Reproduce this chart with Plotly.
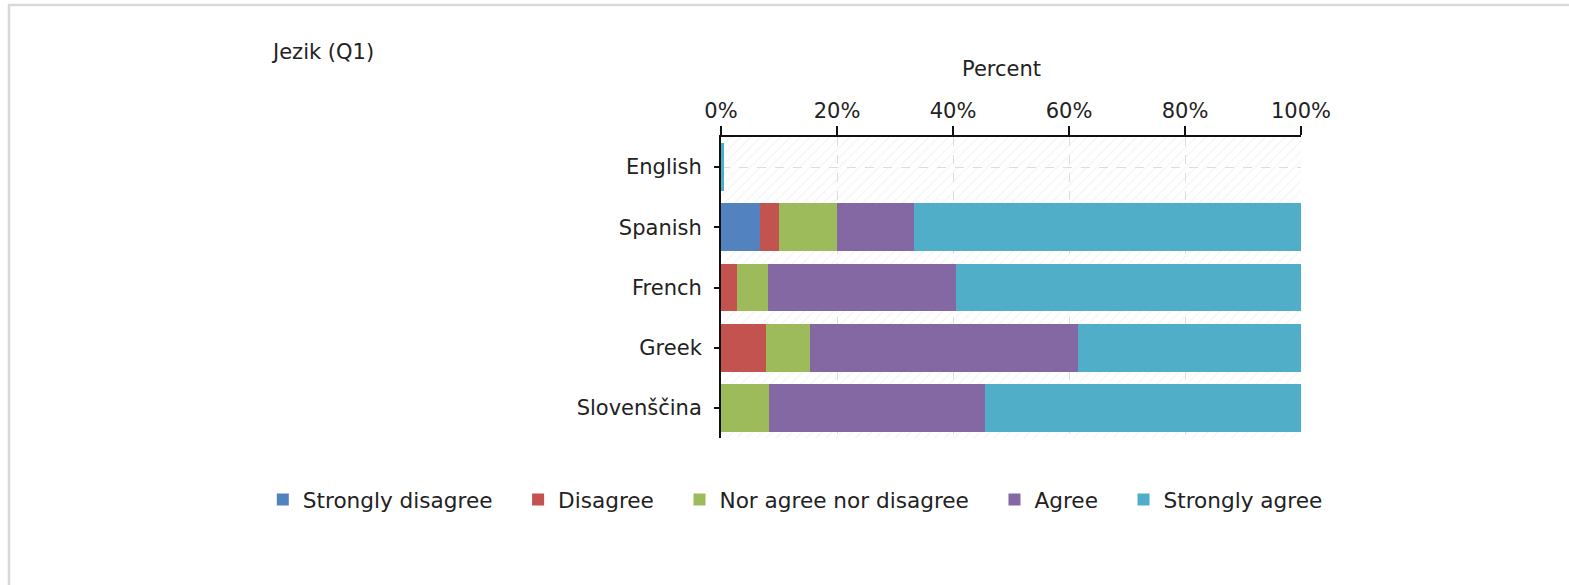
import plotly.graph_objects as go

# Survey responses per language, share of respondents in percent
languages = ["English", "Spanish", "French", "Greek", "Slovenščina"]
answers = ["Strongly disagree", "Disagree", "Nor agree nor disagree", "Agree", "Strongly agree"]
strongly_disagree = [0, 6.7, 0, 0, 0]
disagree = [0, 3.3, 2.7, 7.7, 0]
neutral = [0, 10.0, 5.4, 7.7, 8.2]
agree = [0, 13.3, 32.4, 46.2, 37.3]
strongly_agree = [0.6, 66.7, 59.5, 38.4, 54.5]

x_ticks = [0, 20, 40, 60, 80, 100]
x_tick_labels = ["0%", "20%", "40%", "60%", "80%", "100%"]

colors = ["#5283BE", "#C2534F", "#9DBB5B", "#8468A4", "#50AEC8"]
series = [strongly_disagree, disagree, neutral, agree, strongly_agree]

FONT = "DejaVu Sans"
FS = 21
TXT = "#222222"
PAD = "\u00a0\u00a0\u00a0"  # extra room between legend entries

fig = go.Figure()

# hatched plot background on a hidden unit axis pair
fig.add_trace(go.Scatter(
    x=[0, 1, 1, 0, 0], y=[0, 0, 1, 1, 0],
    xaxis="x", yaxis="y",
    mode="lines", line=dict(width=0),
    fill="toself", fillcolor="rgba(0,0,0,0)",
    fillpattern=dict(shape="/", size=7, solidity=0.15,
                     fgcolor="#e6e6e6", bgcolor="rgba(0,0,0,0)"),
    hoverinfo="skip", showlegend=False,
))

for name, vals, col in zip(answers, series, colors):
    fig.add_trace(go.Bar(
        y=languages, x=vals, name=name + PAD, orientation="h",
        xaxis="x2", yaxis="y2",
        marker=dict(color=col, line=dict(width=0)),
    ))

fig.update_layout(
    width=1569, height=585,
    margin=dict(l=721, r=268, t=137, b=147),
    paper_bgcolor="white", plot_bgcolor="white",
    barmode="stack", bargap=0.205,
    font=dict(family=FONT, size=FS, color=TXT),
    xaxis=dict(range=[0, 1], visible=False, fixedrange=True),
    yaxis=dict(range=[0, 1], visible=False, fixedrange=True),
    xaxis2=dict(
        overlaying="x", side="top", anchor="y2",
        range=[0, 100], tickvals=x_ticks, ticktext=x_tick_labels,
        ticks="outside", ticklen=9, tickwidth=1.5, tickcolor="#111",
        showline=True, linecolor="#111", linewidth=2,
        showgrid=True, gridcolor="#dcdcdc", griddash="dash", gridwidth=1,
        zeroline=False,
        tickfont=dict(family=FONT, size=FS, color=TXT),
    ),
    yaxis2=dict(
        overlaying="y", anchor="x2",
        categoryorder="array", categoryarray=languages,
        autorange="reversed",
        ticks="outside", ticklen=5, tickwidth=1.5, tickcolor="#111",
        ticklabelstandoff=8,
        showline=True, linecolor="#111", linewidth=2,
        showgrid=True, gridcolor="#dcdcdc", griddash="dash", gridwidth=1,
        tickfont=dict(family=FONT, size=FS, color=TXT),
    ),
    legend=dict(
        orientation="h", xref="paper", yref="paper",
        x=-0.79, y=-0.206, xanchor="left", yanchor="middle",
        font=dict(family=FONT, size=21.6, color=TXT),
        traceorder="normal", itemclick=False, itemdoubleclick=False,
        bgcolor="rgba(0,0,0,0)",
    ),
    title=dict(text="Jezik (Q1)", x=273 / 1569, xanchor="left", xref="container",
               y=1 - 52 / 585, yanchor="middle", yref="container",
               font=dict(family=FONT, size=FS, color=TXT)),
    showlegend=True,
)

# axis caption above the tick labels
fig.add_annotation(text="Percent", xref="paper", yref="paper",
                   x=0.483, y=1.226, xanchor="center", yanchor="middle",
                   showarrow=False, font=dict(family=FONT, size=FS, color=TXT))

# light frame around the chart card
fig.add_shape(type="rect", xref="paper", yref="paper",
              x0=-1.2276, x1=2.0, y0=-2.0, y1=1.4385,
              line=dict(color="#d9d9d9", width=2.5), fillcolor="rgba(0,0,0,0)",
              layer="below")

fig.write_html("out.html")
